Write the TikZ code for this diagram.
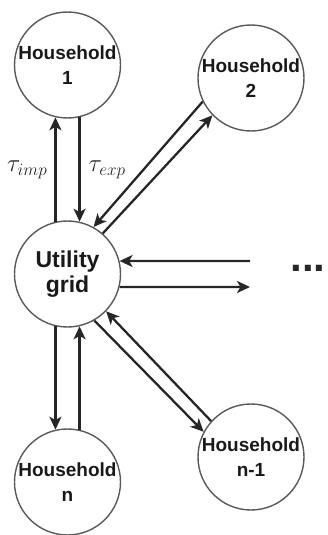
\documentclass[tikz,border=0pt]{standalone}
\usepackage{fontspec}
\setmainfont{Liberation Sans}
\usetikzlibrary{arrows.meta}
\begin{document}
\begin{tikzpicture}[x=1pt,y=-1pt,
  hh/.style={circle,draw=black!65,line width=1.4pt,minimum size=106pt,inner sep=0pt,align=center,
    text=black!90,font=\bfseries\fontsize{19}{25}\selectfont},
  flow/.style={line width=2.3pt,draw=black!85,-{Stealth[length=13pt,width=12pt,inset=3.5pt]}},
  lbl/.style={font=\fontsize{23}{26}\selectfont,text=black!85,inner sep=0pt}]
\useasboundingbox (0,0) rectangle (327,535);
\node[hh] (h1) at (67.5,65) {Household\\1};
\node[hh] (h2) at (251,78) {Household\\2};
\node[hh,font=\bfseries\fontsize{23}{25}\selectfont] (u) at (67.5,274) {Utility\\grid};
\node[hh] (hn1) at (251,457) {Household\\n-1};
\node[hh] (hn) at (67.5,482) {Household\\n};
\coordinate (e1) at (250,261);
\coordinate (e2) at (250,287);
\node[font=\bfseries\fontsize{42}{44}\selectfont,inner sep=0pt,text=black!85] (dots) at (308,268) {...};
\draw[flow] (u.103) -- node[lbl,left=7pt]{$\tau_{imp}$} (h1.257);
\draw[flow] (h1.283) -- node[lbl,right=8pt]{$\tau_{exp}$} (u.77);
\draw[flow] (h2.206) -- (u.61);
\draw[flow] (u.49) -- (h2.224);
\draw[flow] (e1) -- (u.14);
\draw[flow] (u.-14) -- (e2);
\draw[flow] (u.300) -- (hn1.152);
\draw[flow] (hn1.138) -- (u.316);
\draw[flow] (u.257) -- (hn.103);
\draw[flow] (hn.77) -- (u.283);
\end{tikzpicture}
\end{document}
